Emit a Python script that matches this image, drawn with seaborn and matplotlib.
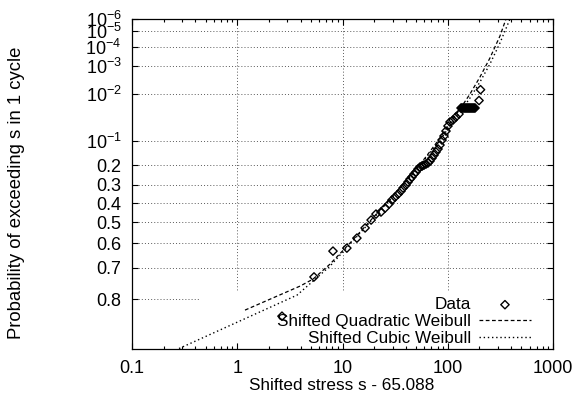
import numpy as np
import pandas as pd
import matplotlib
matplotlib.use("Agg")
import matplotlib.pyplot as plt
import seaborn as sns
from matplotlib.patches import Rectangle

# ---- data ----
data_stress = [2.66, 5.36, 8.12, 11.0, 13.7, 16.4, 18.7, 20.8, 23.2, 25.4, 27.7, 29.5,
               31.5, 33.7, 36.0, 37.6, 40.1, 41.9, 43.8, 45.7, 47.8, 49.9, 52.2, 54.5,
               56.9, 59.4, 62.1, 64.9, 67.8, 70.8, 74.0, 77.3, 80.8, 84.4, 88.2, 92.1,
               96.2, 100.5, 105.0, 112.2, 119.7, 127.9,
               133.7, 136.5, 139.6, 142.7, 145.9, 149.1, 152.4, 155.8, 159.2, 162.7,
               166.3, 170.0, 173.8, 177.6, 181.6,
               198.2, 204.8]
data_prob = [0.840, 0.733, 0.635, 0.622, 0.577, 0.528, 0.488, 0.457, 0.446, 0.425, 0.403, 0.382,
             0.366, 0.350, 0.333, 0.317, 0.301, 0.285, 0.270, 0.259, 0.244, 0.234, 0.219, 0.209,
             0.205, 0.200, 0.195, 0.190, 0.181, 0.168, 0.155, 0.142, 0.130, 0.115, 0.0975, 0.0847,
             0.0702, 0.0572, 0.0481, 0.0440, 0.0381, 0.0329,
             0.0240, 0.0240, 0.0240, 0.0240, 0.0240, 0.0240, 0.0240, 0.0240, 0.0240, 0.0240,
             0.0240, 0.0240, 0.0240, 0.0240, 0.0240,
             0.01555, 0.00758]

quad_stress = [1.185, 3.95, 5.25, 7.61, 11.78, 18.25, 28.27, 43.8, 60.8, 84.4, 105.0,
               130.7, 162.6, 202.3, 251.8, 313.4, 357.5]
quad_prob = [0.8264, 0.7623, 0.7402, 0.6871, 0.5998, 0.4932, 0.3764, 0.2541, 0.1676, 0.0910,
             0.0503, 0.0254, 0.01025, 0.00279, 4.16e-4, 2.12e-5, 1.0e-6]

cubic_stress = [0.1846, 0.2735, 3.70, 5.25, 7.61, 11.78, 18.25, 28.27, 43.8, 60.8, 84.4,
                105.0, 130.7, 162.6, 202.3, 251.8, 313.4, 390.0]
cubic_prob = [0.9089, 0.898, 0.7884, 0.7466, 0.6947, 0.6043, 0.4984, 0.3818, 0.2593, 0.1721,
              0.0975, 0.0572, 0.0297, 0.0133, 0.00422, 8.02e-4, 6.07e-5, 1.0e-6]

y_tick_probs = [1e-6, 1e-5, 1e-4, 1e-3, 1e-2, 1e-1, 0.2, 0.3, 0.4, 0.5, 0.6, 0.7, 0.8]
y_tick_labels = [r"$10^{-6}$", r"$10^{-5}$", r"$10^{-4}$", r"$10^{-3}$", r"$10^{-2}$",
                 r"$10^{-1}$", "0.2", "0.3", "0.4", "0.5", "0.6", "0.7", "0.8"]
x_ticks = [0.1, 1, 10, 100, 1000]
x_tick_labels = ["0.1", "1", "10", "100", "1000"]
y_limits_prob = (0.898, 1e-6)
x_limits = (0.1, 1000)

series_names = ["Data", "Shifted Quadratic Weibull", "Shifted Cubic Weibull"]


def weibull_y(p):
    p = np.asarray(p, dtype=float)
    return np.log(-np.log(p))


sns.set_theme(style="ticks")
plt.rcParams["font.family"] = ["Liberation Sans", "DejaVu Sans"]
plt.rcParams["mathtext.default"] = "regular"
plt.rcParams["text.color"] = "black"
plt.rcParams["axes.labelcolor"] = "black"
FS = 12.3
TICK_FS = 13.0

df_data = pd.DataFrame({"stress": data_stress, "y": weibull_y(data_prob)})
df_quad = pd.DataFrame({"stress": quad_stress, "y": weibull_y(quad_prob)})
df_cub = pd.DataFrame({"stress": cubic_stress, "y": weibull_y(cubic_prob)})

fig = plt.figure(figsize=(5.83, 3.96), dpi=100)
ax = fig.add_axes([132 / 583, 1 - 349 / 396, (553 - 132) / 583, (349 - 19) / 396])
ax.set_xscale("log")

# white key area covering the grid (as in the reference)
ax.add_patch(Rectangle((0.1615, 6 / 330), 0.9715 - 0.1615, (57 - 6) / 330,
                       transform=ax.transAxes, facecolor="white", edgecolor="none", zorder=1))

sns.lineplot(data=df_quad, x="stress", y="y", ax=ax, color="black", lw=0.9,
             linestyle=(0, (3, 2)), sort=False, estimator=None,
             label=series_names[1], zorder=2)
sns.lineplot(data=df_cub, x="stress", y="y", ax=ax, color="black", lw=1.0,
             linestyle=(0, (1, 2)), sort=False, estimator=None,
             label=series_names[2], zorder=2)
sns.scatterplot(data=df_data, x="stress", y="y", ax=ax, marker="D", s=18,
                facecolor="none", edgecolor="black", linewidth=1.0,
                label=series_names[0], zorder=3)

ax.set_xlim(*x_limits)
ax.set_ylim(weibull_y(y_limits_prob[0]), weibull_y(y_limits_prob[1]))

ax.set_xticks(x_ticks)
ax.set_xticklabels(x_tick_labels, fontsize=TICK_FS)
ax.set_yticks(weibull_y(y_tick_probs))
ax.set_yticklabels(y_tick_labels, fontsize=TICK_FS)
ax.yaxis.set_minor_locator(matplotlib.ticker.NullLocator())
ax.xaxis.set_minor_locator(matplotlib.ticker.LogLocator(base=10, subs=np.arange(2, 10)))
ax.xaxis.set_minor_formatter(matplotlib.ticker.NullFormatter())

ax.tick_params(which="both", direction="in", top=True, right=True, colors="black")
ax.tick_params(which="major", length=4.5, width=0.8)
ax.tick_params(axis="x", which="major", pad=8.0)
ax.tick_params(axis="y", which="major", pad=7.5)
ax.tick_params(which="minor", length=2.3, width=0.8)

ax.set_axisbelow(True)
ax.grid(True, which="major", color="0.35", lw=0.7, linestyle=(0, (1, 2.2)))
for s in ax.spines.values():
    s.set_color("black")
    s.set_linewidth(0.9)

ax.set_xlabel("")
ax.set_ylabel("")
fig.text(342 / 583, 1 - 385 / 396, "Shifted stress s - 65.088", ha="center", va="center",
         fontsize=FS, color="black")
fig.text(17 / 583, 1 - 193 / 396, "Probability of exceeding s in 1 cycle", ha="center",
         va="center", rotation=90, fontsize=13.3, color="black")

handles, labels = ax.get_legend_handles_labels()
order = [labels.index(n) for n in series_names]
leg = ax.legend([handles[i] for i in order], [labels[i] for i in order],
                loc="lower right", bbox_to_anchor=(1 - 19 / 421, 0.0),
                frameon=False, markerfirst=False, fontsize=FS, handlelength=3.0,
                handletextpad=0.47, labelspacing=0.1, borderpad=0.2, borderaxespad=0.0)
for t in leg.get_texts():
    t.set_color("black")
leg.set_zorder(5)

fig.savefig("out.png", dpi=100)
